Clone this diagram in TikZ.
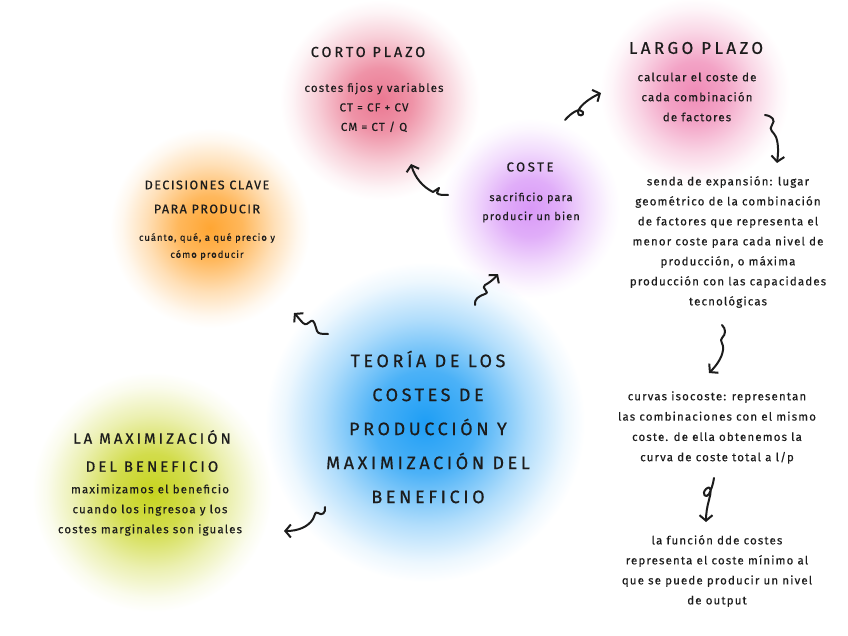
\documentclass[tikz,border=0pt]{standalone}
\usepackage{fontspec}
\setmainfont{Fira Sans}[LetterSpace=6]
\newfontfamily\headfont{Fira Sans}[LetterSpace=20, FakeBold=0.6]
\newfontfamily\headfontb{Fira Sans}[LetterSpace=12, FakeBold=0.6]
\newfontfamily\bodyfont{Fira Sans}[LetterSpace=10, FakeBold=0.3]
\usetikzlibrary{arrows.meta}
\definecolor{ink}{RGB}{28,28,28}
\pgfdeclareradialshading{bcorto}{\pgfpointorigin}{rgb(0bp)=(0.92,0.47,0.57); rgb(8bp)=(0.936,0.576,0.656); rgb(16bp)=(0.972,0.8145,0.8495); rgb(22bp)=(0.9936,0.9576,0.9656); rgb(25bp)=(1,1,1); rgb(50bp)=(1,1,1)}
\pgfdeclareradialshading{blargo}{\pgfpointorigin}{rgb(0bp)=(0.94,0.55,0.72); rgb(8bp)=(0.952,0.64,0.776); rgb(16bp)=(0.979,0.8425,0.902); rgb(22bp)=(0.9952,0.964,0.9776); rgb(25bp)=(1,1,1); rgb(50bp)=(1,1,1)}
\pgfdeclareradialshading{bcoste}{\pgfpointorigin}{rgb(0bp)=(0.85,0.6,0.97); rgb(8bp)=(0.88,0.68,0.976); rgb(16bp)=(0.9475,0.86,0.9895); rgb(22bp)=(0.988,0.968,0.9976); rgb(25bp)=(1,1,1); rgb(50bp)=(1,1,1)}
\pgfdeclareradialshading{bdecis}{\pgfpointorigin}{rgb(0bp)=(1,0.65,0.2); rgb(8bp)=(1,0.72,0.36); rgb(16bp)=(1,0.877,0.72); rgb(22bp)=(1,0.972,0.936); rgb(25bp)=(1,1,1); rgb(50bp)=(1,1,1)}
\pgfdeclareradialshading{bcentral}{\pgfpointorigin}{rgb(0bp)=(0.12,0.62,0.96); rgb(8bp)=(0.296,0.696,0.968); rgb(16bp)=(0.692,0.867,0.986); rgb(22bp)=(0.9296,0.9696,0.9968); rgb(25bp)=(1,1,1); rgb(50bp)=(1,1,1)}
\pgfdeclareradialshading{bmax}{\pgfpointorigin}{rgb(0bp)=(0.78,0.83,0.12); rgb(8bp)=(0.824,0.864,0.296); rgb(16bp)=(0.923,0.9405,0.692); rgb(22bp)=(0.9824,0.9864,0.9296); rgb(25bp)=(1,1,1); rgb(50bp)=(1,1,1)}
\tikzset{
  blobshape/.style={circle, inner sep=0pt, minimum size=#1, blend mode=multiply},
  head/.style={align=center, inner sep=0pt, text=ink, font=\headfont\fontsize{#1}{#1}\selectfont},
  body/.style 2 args={align=center, inner sep=0pt, text=ink, font=\bodyfont\fontsize{#1}{#2}\selectfont},
  squig/.style={draw=ink, line width=2pt, line cap=round, line join=round, -{Straight Barb[length=5.5pt,width=13pt]}}
}
\begin{document}
\begin{tikzpicture}[x=1pt,y=-1pt]
\useasboundingbox (0,0) rectangle (848,636);
\fill[white] (0,0) rectangle (848,636);
% blobs
\node[blobshape=200pt, shading=bcorto] (bcorto) at (380,100) {};
\node[blobshape=190pt, shading=blargo] (blargo) at (695,92) {};
\node[blobshape=180pt, shading=bcoste] (bcoste) at (530,208) {};
\node[blobshape=200pt, shading=bdecis] (bdecis) at (210,228) {};
\node[blobshape=320pt, shading=bcentral] (bcentral) at (425,422) {};
\node[blobshape=240pt, shading=bmax] (bmax) at (152,492) {};
% texts
\node[head=14.5] (cortoh) at (368,52) {CORTO PLAZO};
\node[body={11.5}{19.5}] (cortob) at (374,107.5) {costes fijos y variables\\CT = CF + CV\\CM = CT / Q};
\node[head=17] (largoh) at (696,48) {LARGO PLAZO};
\node[body={11.5}{20}] (largob) at (697,97) {calcular el coste de\\cada combinación\\de factores};
\node[head=13] (costeh) at (530,167) {COSTE};
\node[body={11}{19}] (costeb) at (531,207.5) {sacrificio para\\producir un bien};
\node[head=12.5, font=\headfontb\fontsize{12.5}{24}\selectfont] (decish) at (207,197) {DECISIONES CLAVE\\PARA PRODUCIR};
\node[body={9.5}{17}] (decisb) at (207,246.5) {cuánto, qué, a qué precio y\\cómo producir};
\node[head=17, font=\headfont\fontsize{18}{34}\selectfont] (central) at (428,427) {TEORÍA DE LOS\\COSTES DE\\PRODUCCIÓN Y\\MAXIMIZACIÓN DEL\\BENEFICIO};
\node[head=14, font=\headfont\fontsize{15}{28}\selectfont] (maxh) at (152,451) {LA MAXIMIZACIÓN\\DEL BENEFICIO};
\node[body={11.5}{20}] (maxb) at (150,510) {maximizamos el beneficio\\cuando los ingresoa y los\\costes marginales son iguales};
\node[body={11.5}{20}] (senda) at (728,242) {senda de expansión: lugar\\geométrico de la combinación\\de factores que representa el\\menor coste para cada nivel de\\producción, o máxima\\producción con las capacidades\\tecnológicas};
\node[body={11.5}{20.3}] (curvas) at (717,427.5) {curvas isocoste: representan\\las combinaciones con el mismo\\coste. de ella obtenemos la\\curva de coste total a l/p};
\node[body={11.5}{20}] (funcion) at (717,571) {la función dde costes\\representa el coste mínimo al\\que se puede producir un nivel\\de output};
% arrow end points
\coordinate (a1s) at (448,195); \coordinate (a1e) at (411,164);
\coordinate (a2s) at (565,120); \coordinate (a2e) at (601,93);
\coordinate (a3s) at (475,305); \coordinate (a3e) at (498,274);
\coordinate (a4s) at (328,334); \coordinate (a4e) at (294,313);
\coordinate (a5s) at (325,507); \coordinate (a5e) at (284,531);
\coordinate (a6s) at (765,115); \coordinate (a6e) at (777,163);
\coordinate (a7s) at (722,325); \coordinate (a7e) at (709,373);
\coordinate (a8s) at (714,478); \coordinate (a8e) at (706,522);
% arrows
\draw[squig] (a1s) .. controls (443,195) and (438,195) .. (437,193) -- (439,188) -- (433,192) .. controls (423,187) and (415,178) .. (a1e);
\draw[squig] (a2s) .. controls (571,113) and (580,107) .. (583,112) .. controls (585,116) and (577,117) .. (578,112) .. controls (579,106) and (590,98) .. (a2e);
\draw[squig] (a3s) .. controls (474,299) and (479,296) .. (485,294) .. controls (491,292) and (480,288) .. (485,285) .. controls (489,283) and (494,279) .. (a3e);
\draw[squig] (a4s) .. controls (322,334) and (318,334) .. (317,331) .. controls (315,325) and (314,319) .. (311,321) .. controls (308,323) and (306,326) .. (303,323) .. controls (300,320) and (297,316) .. (a4e);
\draw[squig] (a5s) .. controls (326,513) and (322,516) .. (318,513) .. controls (315,511) and (315,515) .. (313,519) .. controls (308,527) and (298,531) .. (a5e);
\draw[squig] (a6s) .. controls (772,116) and (776,120) .. (772,125) .. controls (768,130) and (774,132) .. (776,137) .. controls (779,145) and (778,155) .. (a6e);
\draw[squig] (a7s) .. controls (726,329) and (726,334) .. (722,338) .. controls (719,341) and (724,343) .. (723,350) .. controls (722,358) and (716,366) .. (a7e);
\draw[squig] (a8s) .. controls (713,485) and (711,490) .. (709,494) .. controls (706,499) and (701,494) .. (706,489) .. controls (712,484) and (711,493) .. (709,500) .. controls (707,507) and (706,514) .. (a8e);
\end{tikzpicture}
\end{document}
